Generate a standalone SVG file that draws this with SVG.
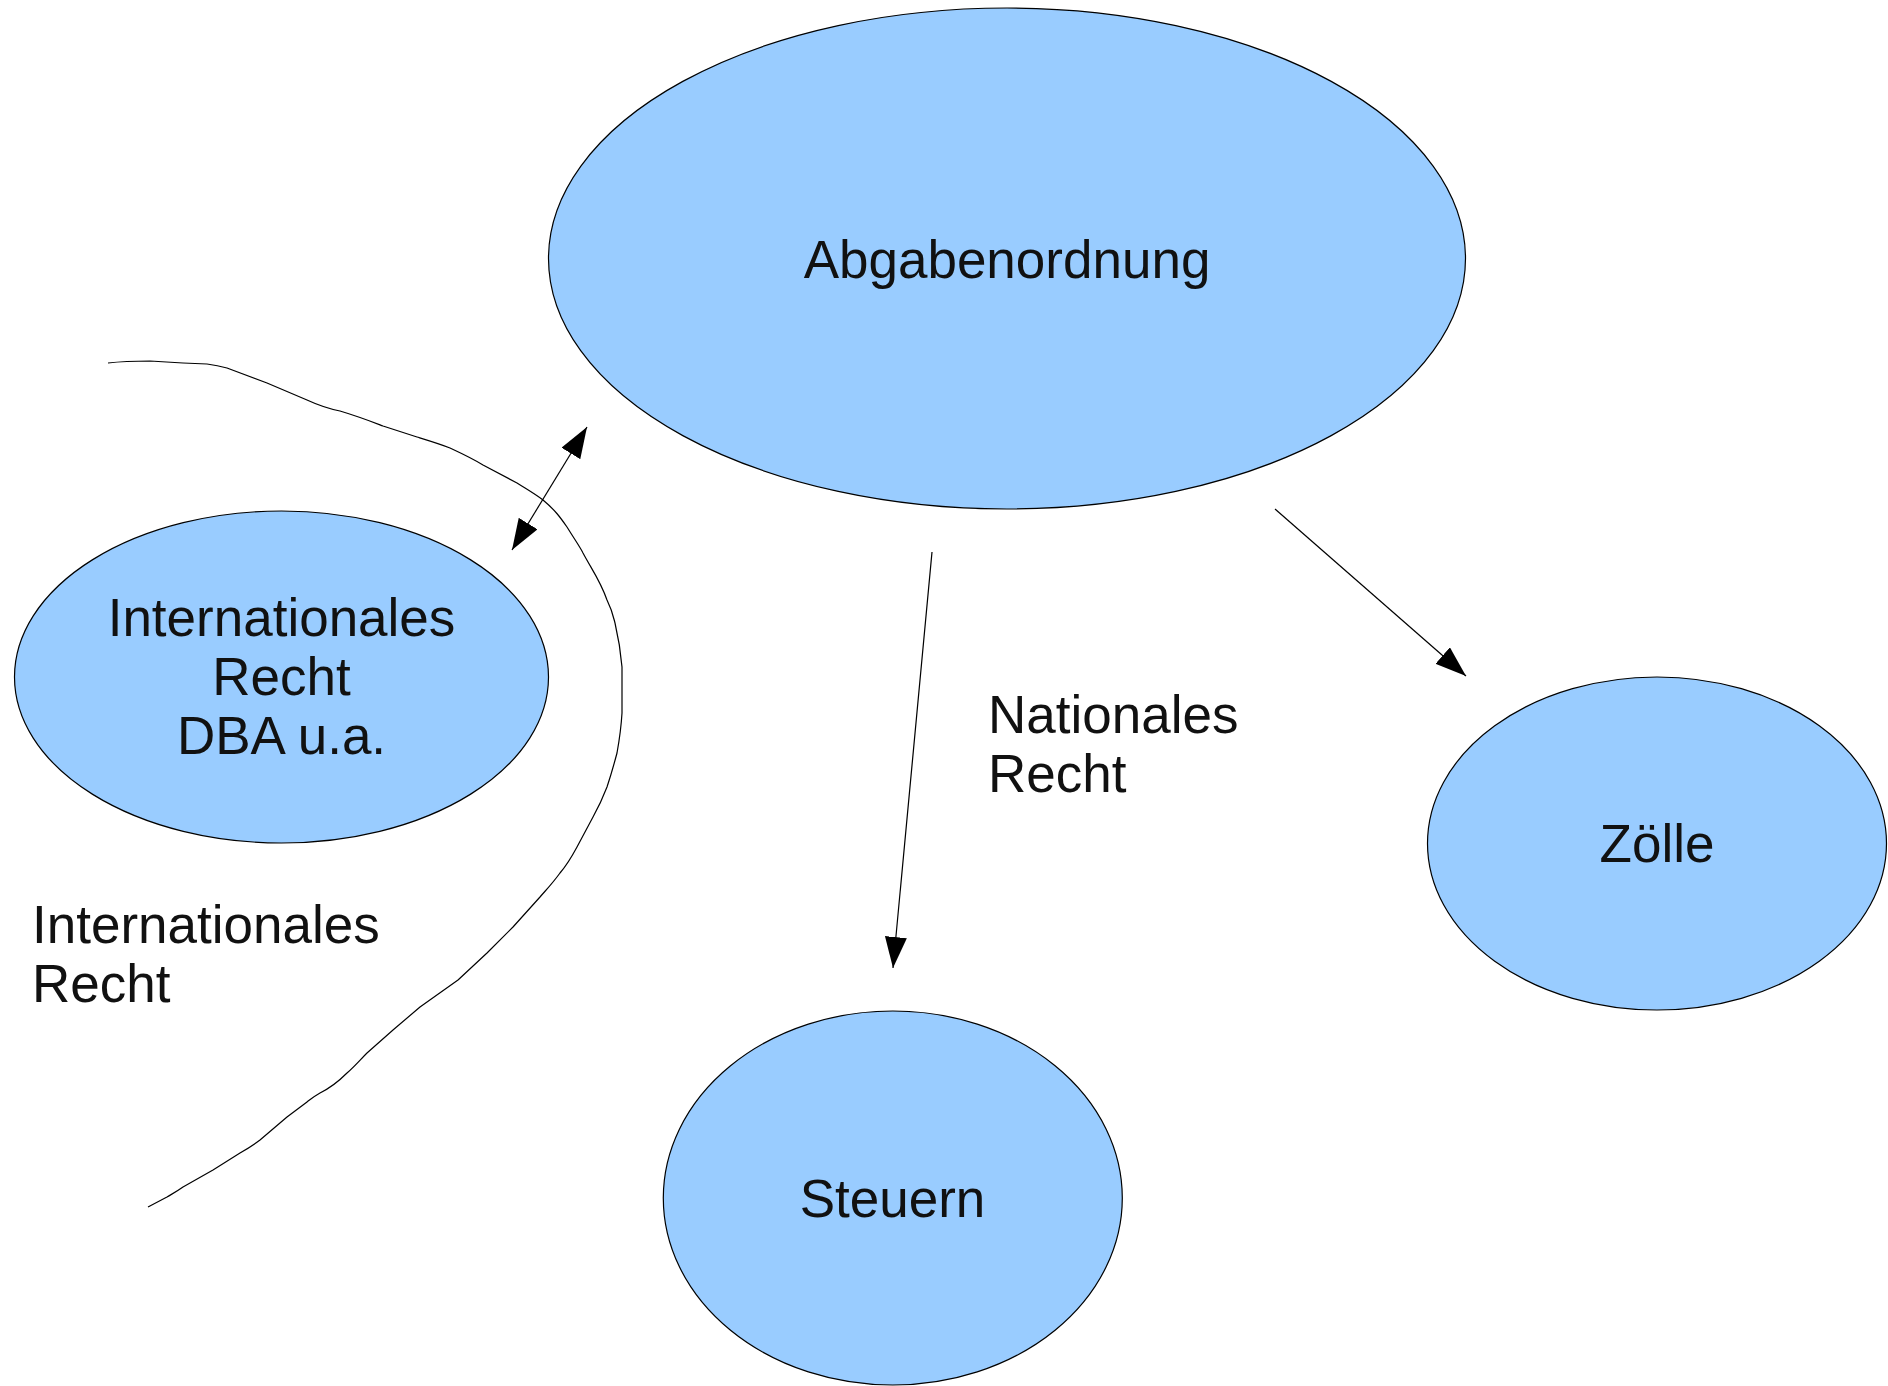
<svg xmlns="http://www.w3.org/2000/svg" width="1888" height="1386" viewBox="0 0 1888 1386">
<style>
.node{fill:#99ccff;stroke:#000;stroke-width:1.2}
.lbl{font-family:"Liberation Sans",Arial,sans-serif;font-size:53px;fill:#111}
.c{text-anchor:middle}
.conn{stroke:#000;stroke-width:1.2;fill:none}
</style>
<defs>
<marker id="ah" viewBox="0 0 31 22" refX="31" refY="11" markerWidth="31" markerHeight="22" markerUnits="userSpaceOnUse" orient="auto-start-reverse">
<path d="M0,0 L31,11 L0,22 z" fill="#000"/>
</marker>
</defs>
<rect width="1888" height="1386" fill="#fff"/>
<g id="boundary">
<path class="conn" stroke-linejoin="round" d="M108,363 C125,361 140,361 150,361 L183,363 L207,364 C215,365 220,366 227,368 L267,383 L307,400 C320,406 330,409 340,411 C360,417 370,421 383,426 L417,437 C430,441 440,444 450,448 C465,455 475,460 483,465 L517,483 C528,490 535,494 543,500 C555,510 560,517 567,527 C575,540 580,547 583,553 C592,570 600,580 607,600 C612,610 613,615 615,623 C619,640 621,655 622,667 L622,713 C621,730 619,742 617,753 C613,768 610,778 607,787 C602,800 598,808 593,817 L577,847 C570,860 566,866 560,873 C552,884 546,890 540,897 L513,927 L487,953 L458,980 L420,1007 L393,1030 L367,1053 C360,1060 354,1067 347,1073 C338,1082 330,1088 320,1093 C313,1097 311,1099 307,1102 L287,1117 L260,1140 C252,1146 247,1149 240,1153 L213,1170 L183,1187 C176,1192 172,1194 167,1197 L148,1207"/>
</g>
<g id="connectors">
<line class="conn" x1="512" y1="550" x2="587" y2="427" marker-start="url(#ah)" marker-end="url(#ah)"/>
<line class="conn" x1="932" y1="552" x2="893" y2="968" marker-end="url(#ah)"/>
<line class="conn" x1="1275" y1="509" x2="1466" y2="676" marker-end="url(#ah)"/>
</g>
<g id="abgabenordnung">
<ellipse class="node" cx="1007" cy="258.5" rx="458.5" ry="250.5"/>
<text class="lbl c" x="1007" y="278">Abgabenordnung</text>
</g>
<g id="internationales-recht-dba">
<ellipse class="node" cx="281.5" cy="677" rx="267" ry="166"/>
<text class="lbl c" x="281.5" y="636">Internationales</text>
<text class="lbl c" x="281.5" y="695">Recht</text>
<text class="lbl c" x="281.5" y="754">DBA u.a.</text>
</g>
<g id="zoelle">
<ellipse class="node" cx="1657" cy="843.5" rx="229.5" ry="166.5"/>
<text class="lbl c" x="1657" y="862">Zölle</text>
</g>
<g id="steuern">
<ellipse class="node" cx="892.8" cy="1198" rx="229.5" ry="187"/>
<text class="lbl c" x="892.5" y="1217">Steuern</text>
</g>
<g id="labels">
<text class="lbl" x="988" y="733">Nationales</text>
<text class="lbl" x="988" y="792">Recht</text>
<text class="lbl" x="32" y="943">Internationales</text>
<text class="lbl" x="32" y="1002">Recht</text>
</g>
</svg>
